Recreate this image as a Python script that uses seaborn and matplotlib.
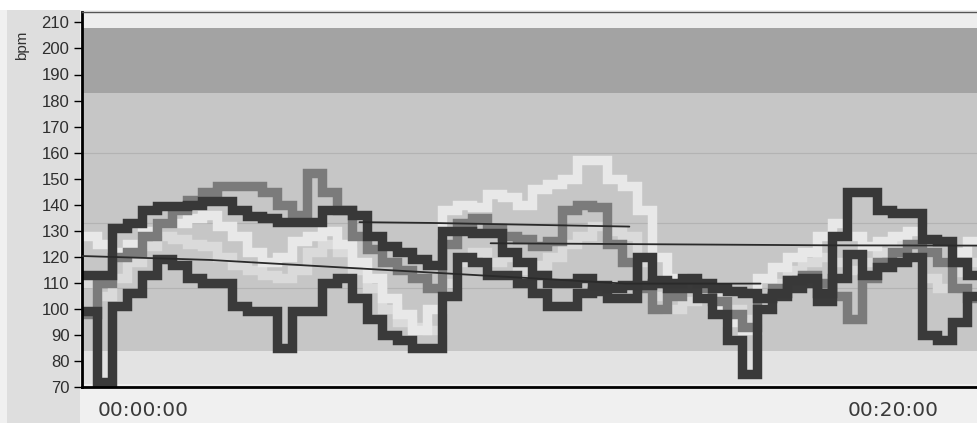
import matplotlib
matplotlib.use("Agg")
import numpy as np
import pandas as pd
import matplotlib.pyplot as plt
import seaborn as sns
from matplotlib.transforms import ScaledTranslation

# ---------------- data ----------------
minutes = [0.0, 0.4, 0.8, 1.2, 1.6, 2.0, 2.4, 2.8, 3.2, 3.6,
           4.0, 4.4, 4.8, 5.2, 5.6, 6.0, 6.4, 6.8, 7.2, 7.6,
           8.0, 8.4, 8.8, 9.2, 9.6, 10.0, 10.4, 10.8, 11.2, 11.6,
           12.0, 12.4, 12.8, 13.2, 13.6, 14.0, 14.4, 14.8, 15.2, 15.6,
           16.0, 16.4, 16.8, 17.2, 17.6, 18.0, 18.4, 18.8, 19.2, 19.6,
           20.0, 20.4, 20.8, 21.2, 21.6, 22.0, 22.4, 22.8, 23.2, 23.6]

light_low = [110, 105, 112, 118, 124, 128, 127, 125, 124, 120,
             117, 115, 113, 112, 115, 122, 125, 122, 115, 108,
             100, 95, 93, 92, 110, 118, 122, 118, 120, 115,
             117, 120, 125, 128, 132, 130, 128, 118, 105, 100,
             103, 108, 106, 100, 96, 102, 110, 115, 118, 120,
             118, 115, 118, 122, 125, 120, 112, 108, 114, 118]

light_high = [128, 125, 122, 125, 130, 133, 133, 135, 136, 132,
              128, 122, 118, 120, 126, 128, 130, 125, 118, 112,
              104, 98, 92, 100, 138, 140, 139, 144, 143, 140,
              146, 148, 150, 157, 157, 150, 147, 138, 120, 112,
              110, 106, 100, 95, 92, 112, 116, 120, 122, 128,
              133, 128, 124, 126, 128, 130, 122, 118, 122, 126]

medium = [98, 110, 120, 122, 128, 133, 138, 142, 145, 147,
          147, 147, 145, 140, 136, 152, 145, 138, 128, 123,
          118, 115, 112, 108, 125, 133, 135, 131, 128, 127,
          124, 126, 138, 140, 139, 125, 118, 108, 100, 105,
          110, 108, 103, 98, 93, 104, 108, 111, 113, 110,
          105, 96, 112, 118, 122, 125, 122, 118, 108, 104]

dark_low = [99, 72, 101, 106, 113, 119, 117, 112, 110, 110,
            101, 99, 99, 85, 99, 99, 110, 112, 104, 96,
            90, 88, 85, 85, 105, 120, 118, 113, 113, 110,
            106, 101, 101, 106, 107, 104, 104, 109, 110, 108,
            108, 104, 98, 88, 75, 100, 105, 108, 110, 103,
            112, 121, 113, 116, 118, 120, 90, 88, 95, 105]

dark_high = [113, 113, 131, 133, 138, 139.5, 139.5, 140, 141.5, 141.5,
             138, 135.5, 135, 133.5, 133.5, 133.5, 138, 138, 136, 128,
             124, 122, 119, 117, 130, 130, 129, 129, 122, 118,
             113, 110, 110, 112, 109, 108, 109, 120, 111, 110,
             112, 110, 108, 107, 106, 104, 106, 111, 112, 106,
             128, 145, 145, 138, 137, 137, 127, 126, 118, 113]

avg1_t = [0.0, 3.4, 14.5, 18.1]
avg1_v = [120.3, 118.8, 109.7, 109.7]
avg2_t = [7.4, 9.3, 14.6]
avg2_v = [133.3, 133.0, 131.6]
avg3_t = [10.9, 20.0, 23.9]
avg3_v = [125.2, 124.4, 124.3]

zone_edges = [84, 108, 133, 160, 183, 208]
y_ticks = [70, 80, 90, 100, 110, 120, 130, 140, 150, 160, 170, 180, 190, 200, 210]
x_ticks = [0, 20]
x_labels = ["00:00:00", "00:20:00"]

# ---------------- figure ----------------
sns.set_style("white")
plt.rcParams["font.family"] = ["Liberation Sans", "DejaVu Sans"]

W, H = 978, 423
fig = plt.figure(figsize=(W / 100, H / 100), dpi=100)
fig.patch.set_facecolor("#f0f0f0")
# left gutter
fig.patches.append(plt.Rectangle((7 / W, 0), (80 - 7) / W, 1 - 10 / H,
                                 transform=fig.transFigure, facecolor="#dedede",
                                 edgecolor="none", zorder=-5))
fig.patches.append(plt.Rectangle((0, 1 - 10 / H), 1, 10 / H,
                                 transform=fig.transFigure, facecolor="#ffffff",
                                 edgecolor="none", zorder=-5))

ax = fig.add_axes([82 / W, 1 - 387 / H, (W - 82) / W, (387 - 12) / H])
ax.set_facecolor("#eeeeee")
ax.set_xlim(0, 23.9)
ax.set_ylim(71, 214)

# zones
ax.axhspan(ax.get_ylim()[0], zone_edges[0], color="#e3e3e3", zorder=0, lw=0)
ax.axhspan(zone_edges[0], zone_edges[4], color="#c6c6c6", zorder=0, lw=0)
ax.axhspan(zone_edges[4], zone_edges[5], color="#a3a3a3", zorder=0, lw=0)
for e in zone_edges[1:4]:
    ax.axhline(e, color="#b3b3b3", lw=0.8, zorder=0.5)

t_ext = minutes + [23.9]
series = [
    (light_low, "#dadada"),
    (light_high, "#e8e8e8"),
    (medium, "#7b7b7b"),
    (dark_low, "#3a3a3a"),
    (dark_high, "#383838"),
]
for vals, col in series:
    df = pd.DataFrame({"t": t_ext, "bpm": list(vals) + [vals[-1]]})
    sns.lineplot(data=df, x="t", y="bpm", ax=ax, color=col, lw=6.8,
                 drawstyle="steps-post", estimator=None, sort=False,
                 solid_joinstyle="miter", solid_capstyle="butt", zorder=2)

for tt, vv in [(avg1_t, avg1_v), (avg2_t, avg2_v), (avg3_t, avg3_v)]:
    sns.lineplot(x=tt, y=vv, ax=ax, color="#2a2a2a", lw=1.3,
                 estimator=None, sort=False, zorder=3)

# axes styling
ax.spines["right"].set_visible(False)
ax.spines["left"].set_color("black")
ax.spines["left"].set_linewidth(2)
ax.spines["bottom"].set_color("black")
ax.spines["bottom"].set_linewidth(2)
ax.spines["top"].set_color("#555555")
ax.spines["top"].set_linewidth(1)

ax.set_yticks(y_ticks)
ax.set_yticklabels([str(v) for v in y_ticks], fontsize=12, color="#2e2e2e")
ax.tick_params(axis="y", direction="out", length=6, width=1, color="black", pad=3,
               left=True, labelleft=True)

ax.set_xticks(x_ticks)
ax.set_xticklabels(x_labels, fontsize=14.5, color="#3a3a3a", family="DejaVu Sans")
ax.tick_params(axis="x", length=0, pad=10, bottom=True, labelbottom=True)
offset = ScaledTranslation(16 / 100, 0, fig.dpi_scale_trans)
for lbl in ax.get_xticklabels():
    lbl.set_horizontalalignment("left")
    lbl.set_transform(lbl.get_transform() + offset)

ax.set_xlabel("")
ax.set_ylabel("")
fig.text(22 / W, 1 - 45 / H, "bpm", rotation=90, ha="center", va="center",
         fontsize=11, color="#333333")

fig.savefig("out.png", dpi=100, facecolor=fig.get_facecolor())
